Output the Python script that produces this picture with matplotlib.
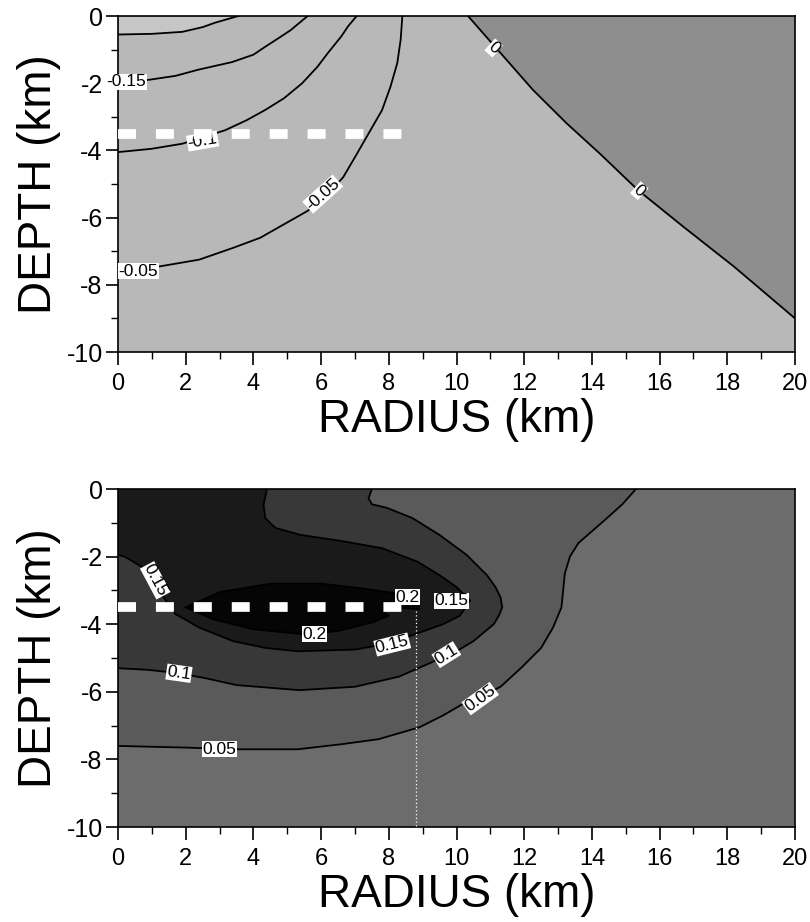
import numpy as np
import matplotlib
matplotlib.use("Agg")
import matplotlib.pyplot as plt
from matplotlib.ticker import MultipleLocator

plt.rcParams["axes.unicode_minus"] = False

# ---- top panel: contour lines (radius km, depth km) ----
top_levels = ["-0.2", "-0.15", "-0.1", "-0.05", "0"]
top_m020_r = [0.0, 1.0, 1.9, 2.5, 2.86, 3.55]
top_m020_z = [-0.55, -0.53, -0.47, -0.33, -0.2, 0.0]
top_m015_r = [0.0, 0.9, 1.7, 2.36, 3.37, 4.0, 4.34, 4.8, 5.1, 5.6]
top_m015_z = [-1.95, -1.9, -1.78, -1.6, -1.37, -1.15, -0.92, -0.62, -0.42, 0.0]
top_m010_r = [0.0, 1.0, 1.9, 3.16, 3.8, 4.34, 4.9, 5.44, 5.9, 6.2, 6.6, 6.8, 7.05]
top_m010_z = [-4.05, -3.95, -3.8, -3.4, -3.1, -2.8, -2.45, -2.0, -1.5, -1.1, -0.6, -0.3, 0.0]
top_m005_r = [0.0, 1.24, 2.4, 3.4, 4.2, 4.9, 5.6, 6.2, 6.65, 7.0, 7.4, 7.8, 8.05, 8.25, 8.35, 8.4]
top_m005_z = [-7.45, -7.45, -7.25, -6.9, -6.6, -6.2, -5.8, -5.3, -4.8, -4.2, -3.5, -2.8, -2.1,
              -1.4, -0.7, 0.0]
top_zero_r = [10.34, 11.3, 12.26, 13.26, 14.24, 15.36, 16.7, 18.2, 20.0]
top_zero_z = [0.0, -1.1, -2.2, -3.2, -4.1, -5.18, -6.27, -7.46, -9.0]

# contour labels: text, radius, depth, rotation
top_labels = [("-0.15", 0.25, -1.95, 0), ("-0.1", 2.5, -3.72, 10),
              ("-0.05", 0.6, -7.6, 0), ("-0.05", 6.05, -5.3, 42),
              ("0", 11.1, -0.95, -42), ("0", 15.4, -5.2, -42)]

# ---- bottom panel ----
bot_005_r = [0.0, 2.0, 3.5, 5.3, 6.6, 7.7, 8.9, 9.6, 10.2, 10.7, 11.3, 11.9, 12.5, 12.85,
             13.1, 13.15, 13.2, 13.35, 13.6, 14.0, 14.4, 14.9, 15.3]
bot_005_z = [-7.6, -7.65, -7.7, -7.7, -7.55, -7.4, -7.05, -6.7, -6.35, -6.15, -5.85, -5.3,
             -4.7, -4.1, -3.5, -3.0, -2.5, -2.0, -1.6, -1.25, -0.9, -0.45, 0.0]
bot_010_r = [7.5, 7.4, 7.5, 7.95, 8.7, 9.5, 10.3, 10.9, 11.15, 11.3, 11.35, 11.25, 11.1,
             10.8, 10.5, 10.0, 9.1, 8.3, 7.0, 5.35, 3.5, 2.6, 1.8, 0.9, 0.0]
bot_010_z = [0.0, -0.27, -0.45, -0.56, -0.86, -1.36, -1.95, -2.55, -2.9, -3.2, -3.5, -3.75,
             -4.0, -4.25, -4.5, -4.8, -5.2, -5.55, -5.85, -5.95, -5.8, -5.6, -5.45, -5.35, -5.3]
bot_015_r = [4.4, 4.3, 4.35, 4.65, 5.4, 6.5, 7.8, 8.85, 9.5, 10.0, 10.4, 10.1, 9.6, 8.9,
             8.1, 7.0, 5.3, 4.35, 3.4, 2.4, 1.7, 1.2, 0.7, 0.2, 0.0]
bot_015_z = [0.0, -0.47, -0.86, -1.15, -1.36, -1.52, -1.75, -2.15, -2.55, -2.9, -3.3, -3.75,
             -4.0, -4.25, -4.55, -4.75, -4.8, -4.7, -4.5, -4.1, -3.7, -3.0, -2.3, -2.0, -1.95]
bot_020_r = [2.0, 3.0, 4.5, 6.0, 7.3, 8.3, 8.9, 8.9, 8.1, 7.75, 8.0, 7.5, 6.5, 5.5, 4.0, 2.8, 2.0]
bot_020_z = [-3.5, -3.05, -2.8, -2.8, -2.95, -3.1, -3.3, -3.55, -3.5, -3.58, -3.75, -3.95,
             -4.2, -4.3, -4.15, -3.85, -3.5]

bot_labels = [("0.15", 1.1, -2.7, -62), ("0.2", 5.8, -4.3, 0), ("0.2", 8.55, -3.2, 0),
              ("0.15", 9.85, -3.3, 0), ("0.15", 8.1, -4.6, 14), ("0.1", 1.8, -5.45, -8),
              ("0.1", 9.7, -4.9, 32), ("0.05", 3.0, -7.7, 0), ("0.05", 10.7, -6.2, 36)]

# source depth (white dashed line) and vertical marker
source_depth = -3.5
source_r_end = 8.4
marker_r = 8.8

regular = ["Liberation Sans", "DejaVu Sans"]

fig = plt.figure(figsize=(8.1, 9.22), dpi=100)
ax_top = fig.add_axes([0.1457, 0.6182, 0.8358, 0.3644])
ax_bot = fig.add_axes([0.1457, 0.1030, 0.8358, 0.3666])


def closed(r, z, extra):
    # close a contour polygon with extra corner points
    return list(r) + [p[0] for p in extra], list(z) + [p[1] for p in extra]


def label(ax, txt, r, z, rot):
    ax.text(r, z, txt, rotation=rot, ha="center", va="center", fontsize=12.5,
            family=regular, zorder=6, clip_on=False, rotation_mode="anchor",
            bbox=dict(facecolor="white", edgecolor="none", pad=0.4))


def style_axes(ax):
    ax.set_xlim(0, 20)
    ax.set_ylim(-10, 0)
    ax.xaxis.set_major_locator(MultipleLocator(2))
    ax.xaxis.set_minor_locator(MultipleLocator(1))
    ax.yaxis.set_major_locator(MultipleLocator(2))
    ax.yaxis.set_minor_locator(MultipleLocator(1))
    ax.tick_params(which="major", direction="out", length=9, width=1.2)
    ax.tick_params(which="minor", direction="out", length=5, width=1.0)
    ax.tick_params(axis="y", labelsize=18, pad=2)
    ax.tick_params(axis="x", labelsize=17, pad=6)
    for t in ax.get_yticklabels() + ax.get_xticklabels():
        t.set_family(regular)
    for s in ax.spines.values():
        s.set_linewidth(1.2)
    ax.set_ylabel("DEPTH (km)", fontsize=33, family=regular, labelpad=4)
    ax.set_xlabel("RADIUS (km)", fontsize=33, family=regular, labelpad=2)


def source_line(ax, z):
    ax.plot([0, source_r_end], [source_depth, source_depth], color="white", lw=7,
            dashes=(1.85, 2.05), solid_capstyle="butt", dash_capstyle="butt", zorder=z)


# ---- top panel ----
ax = ax_top
ax.set_facecolor("#b8b8b8")
r, z = closed(top_zero_r, top_zero_z, [(20, -10), (20, 0)])
ax.fill(r, z, color="#8e8e8e", lw=0)
r, z = closed(top_m020_r, top_m020_z, [(0, 0)])
ax.fill(r, z, color="#c6c6c6", lw=0)
for cr, cz in [(top_m020_r, top_m020_z), (top_m015_r, top_m015_z),
               (top_m010_r, top_m010_z), (top_m005_r, top_m005_z),
               (top_zero_r, top_zero_z)]:
    ax.plot(cr, cz, color="black", lw=1.3, zorder=3)
source_line(ax, 7)
for txt, lr, lz, rot in top_labels:
    label(ax, txt, lr, lz, rot)
style_axes(ax)

# ---- bottom panel ----
ax = ax_bot
ax.set_facecolor("#6c6c6c")
shades = ["#5a5a5a", "#383838", "#1a1a1a", "#050505"]
r, z = closed(bot_005_r, bot_005_z, [(0, 0)])
ax.fill(r, z, color=shades[0], lw=0)
r, z = closed(bot_010_r, bot_010_z, [(0, 0)])
ax.fill(r, z, color=shades[1], lw=0)
r, z = closed(bot_015_r, bot_015_z, [(0, 0)])
ax.fill(r, z, color=shades[2], lw=0)
ax.fill(bot_020_r, bot_020_z, color=shades[3], lw=0)
for cr, cz in [(bot_005_r, bot_005_z), (bot_010_r, bot_010_z),
               (bot_015_r, bot_015_z), (bot_020_r, bot_020_z)]:
    ax.plot(cr, cz, color="black", lw=1.3, zorder=3)
ax.plot([marker_r, marker_r], [-3.6, -10], color="white", lw=0.9, ls=(0, (1, 2)), zorder=4)
source_line(ax, 5)
for txt, lr, lz, rot in bot_labels:
    label(ax, txt, lr, lz, rot)
style_axes(ax)

fig.savefig("out.png", dpi=100)
